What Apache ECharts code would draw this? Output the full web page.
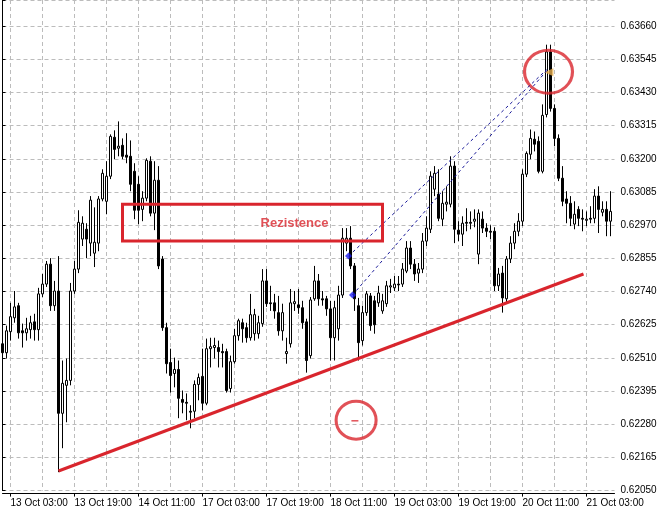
<!DOCTYPE html>
<html>
<head>
<meta charset="utf-8">
<script src="https://cdn.jsdelivr.net/npm/echarts@6/dist/echarts.min.js"></script>
<style>html,body{margin:0;padding:0;background:#fff}#c{width:660px;height:513px}</style>
</head>
<body>
<div id="c"></div>
<script>
// hourly bars, 13 Oct 01:00 onward (weekend skipped)
const opens = [0.62559,0.62528,0.62601,0.62649,0.62691,0.62604,0.62597,0.62608,0.62635,0.62608,
0.62732,0.62766,0.62835,0.62691,0.62742,0.62318,0.62415,0.62432,0.62742,0.62818,
0.62922,0.62956,0.62908,0.62873,0.62908,0.63061,0.63053,0.63140,0.63275,0.63237,
0.63247,0.63213,0.63209,0.63157,0.63112,0.63025,0.63064,0.63192,0.63012,0.63126,
0.62853,0.62615,0.62494,0.62456,0.62470,0.62366,0.62356,0.62325,0.62325,0.62418,
0.62446,0.62353,0.62542,0.62546,0.62546,0.62532,0.62532,0.62404,0.62497,0.62587,
0.62632,0.62615,0.62580,0.62594,0.62594,0.62629,0.62777,0.62701,0.62701,0.62667,
0.62604,0.62525,0.62559,0.62698,0.62694,0.62684,0.62635,0.62518,0.62715,0.62777,
0.62715,0.62715,0.62680,0.62580,0.62611,0.62728,0.62908,0.62925,0.62829,0.62691,
0.62570,0.62667,0.62725,0.62708,0.62701,0.62673,0.62698,0.62756,0.62753,0.62766,
0.62766,0.62811,0.62891,0.62835,0.62804,0.62818,0.62915,0.62956,0.63095,0.63078,
0.62991,0.63043,0.63043,0.63175,0.62953,0.62939,0.62980,0.62980,0.62984,0.62870,
0.62991,0.62960,0.62949,0.62949,0.62760,0.62804,0.62715,0.62853,0.62908,0.62949,
0.62984,0.63147,0.63216,0.63268,0.63261,0.63157,0.63354,0.63571,0.63375,0.63271,
0.63133,0.63061,0.63046,0.62974,0.63025,0.62994,0.62987,0.62994,0.62994,0.63071,
0.63015,0.63025,0.62984];
const closes = [0.62528,0.62604,0.62653,0.62687,0.62597,0.62597,0.62611,0.62632,0.62608,0.62732,
0.62766,0.62835,0.62691,0.62742,0.62318,0.62422,0.62432,0.62742,0.62818,0.62980,
0.62977,0.62922,0.63057,0.62911,0.63061,0.63150,0.63140,0.63278,0.63233,0.63244,
0.63209,0.63206,0.63112,0.63022,0.63022,0.63064,0.63195,0.63012,0.63126,0.62829,
0.62615,0.62490,0.62449,0.62470,0.62370,0.62356,0.62353,0.62322,0.62418,0.62442,
0.62353,0.62542,0.62549,0.62553,0.62532,0.62528,0.62397,0.62497,0.62587,0.62639,
0.62611,0.62580,0.62660,0.62660,0.62632,0.62777,0.62698,0.62698,0.62673,0.62604,
0.62667,0.62532,0.62701,0.62705,0.62684,0.62632,0.62501,0.62711,0.62777,0.62715,
0.62711,0.62680,0.62580,0.62684,0.62728,0.62925,0.62925,0.62829,0.62715,0.62563,
0.62667,0.62732,0.62622,0.62625,0.62735,0.62708,0.62760,0.62760,0.62766,0.62763,
0.62818,0.62891,0.62835,0.62801,0.62818,0.62915,0.62960,0.63140,0.63150,0.62994,
0.63046,0.63050,0.63175,0.62956,0.62939,0.62977,0.62977,0.62977,0.62991,0.63012,
0.62960,0.62949,0.62946,0.62760,0.62801,0.62718,0.62853,0.62908,0.62949,0.62984,
0.63147,0.63219,0.63271,0.63251,0.63157,0.63351,0.63571,0.63375,0.63271,0.63133,
0.63053,0.63046,0.62994,0.63008,0.62994,0.62991,0.62991,0.62991,0.63071,0.63025,
0.63025,0.62984,0.63018];
const lows = [0.62501,0.62508,0.62570,0.62632,0.62577,0.62546,0.62570,0.62577,0.62570,0.62570,
0.62721,0.62756,0.62673,0.62673,0.62114,0.62197,0.62287,0.62415,0.62732,0.62804,
0.62898,0.62856,0.62863,0.62825,0.62880,0.63053,0.63008,0.63130,0.63199,0.63209,
0.63199,0.63185,0.63088,0.62991,0.62974,0.62984,0.63053,0.63001,0.62953,0.62818,
0.62604,0.62456,0.62390,0.62408,0.62301,0.62318,0.62294,0.62266,0.62301,0.62363,
0.62328,0.62346,0.62477,0.62508,0.62477,0.62477,0.62390,0.62390,0.62490,0.62570,
0.62563,0.62563,0.62570,0.62570,0.62577,0.62618,0.62687,0.62673,0.62646,0.62587,
0.62570,0.62490,0.62546,0.62673,0.62663,0.62611,0.62459,0.62508,0.62708,0.62691,
0.62691,0.62656,0.62501,0.62501,0.62570,0.62718,0.62880,0.62818,0.62673,0.62501,
0.62553,0.62656,0.62604,0.62594,0.62687,0.62663,0.62687,0.62735,0.62742,0.62742,
0.62756,0.62804,0.62818,0.62777,0.62770,0.62804,0.62898,0.62943,0.63071,0.62984,
0.62967,0.63018,0.63032,0.62908,0.62915,0.62898,0.62949,0.62956,0.62963,0.62835,
0.62943,0.62929,0.62922,0.62742,0.62742,0.62667,0.62701,0.62839,0.62887,0.62932,
0.62967,0.63137,0.63199,0.63226,0.63150,0.63150,0.63344,0.63364,0.63244,0.63123,
0.63036,0.62977,0.62967,0.62956,0.62967,0.62949,0.62967,0.62977,0.62977,0.62943,
0.63001,0.62932,0.62932];
const highs = [0.62594,0.62622,0.62701,0.62742,0.62701,0.62629,0.62649,0.62656,0.62663,0.62753,
0.62801,0.62846,0.62856,0.62777,0.62863,0.62501,0.62508,0.62770,0.62846,0.63022,
0.63001,0.62977,0.63071,0.63032,0.63071,0.63164,0.63192,0.63285,0.63299,0.63330,
0.63271,0.63289,0.63264,0.63185,0.63140,0.63088,0.63202,0.63209,0.63192,0.63175,
0.62863,0.62632,0.62542,0.62511,0.62501,0.62397,0.62387,0.62346,0.62432,0.62456,
0.62542,0.62577,0.62580,0.62580,0.62570,0.62559,0.62542,0.62518,0.62611,0.62646,
0.62646,0.62632,0.62732,0.62680,0.62656,0.62818,0.62818,0.62760,0.62732,0.62725,
0.62698,0.62580,0.62749,0.62742,0.62749,0.62708,0.62646,0.62721,0.62829,0.62801,
0.62742,0.62725,0.62708,0.62708,0.62760,0.62960,0.62960,0.62967,0.62839,0.62718,
0.62691,0.62742,0.62735,0.62725,0.62760,0.62732,0.62777,0.62784,0.62794,0.62794,
0.62839,0.62915,0.62915,0.62853,0.62839,0.62943,0.63001,0.63157,0.63175,0.63164,
0.63088,0.63105,0.63209,0.63192,0.62984,0.63001,0.63029,0.63018,0.63025,0.63025,
0.63018,0.62977,0.62970,0.62963,0.62822,0.62829,0.62863,0.62932,0.62977,0.63012,
0.63164,0.63226,0.63302,0.63295,0.63278,0.63389,0.63596,0.63596,0.63389,0.63285,
0.63175,0.63088,0.63071,0.63053,0.63036,0.63025,0.63018,0.63036,0.63095,0.63105,
0.63053,0.63053,0.63088];

const yTickLabels = ['0.62050','0.62165','0.62280','0.62395','0.62510','0.62625','0.62740',
  '0.62855','0.62970','0.63085','0.63200','0.63315','0.63430','0.63545','0.63660'];
const yMin = 0.62050, yStep = 0.00115, yMax = 0.637509;

// annotation objects (x in bar-index units, y in price)
const trendLine = [[14, 0.62118], [145.25, 0.62801]];
const tradeLineA = [[86.5, 0.62863], [136, 0.63509]];
const tradeLineB = [[87.5, 0.62728], [136.25, 0.63509]];
const tradeEntries = [[86.5, 0.62863], [87.5, 0.62728]];
const tradeExit = [[136.6, 0.63500]];
const resistanceBox = [[30, 0.63043], [95, 0.63043], [95, 0.62915], [30, 0.62915], [30, 0.63043]];
const resistanceLabel = [[73, 0.62977]];
const circleTop = [[136.5, 0.63502]];
const circleBottom = [[88.4, 0.62294]];
const dashMark = [[88.1, 0.62292]];

// categories: hourly, skipping the weekend
const months = ['Jan','Feb','Mar','Apr','May','Jun','Jul','Aug','Sep','Oct','Nov','Dec'];
const categories = [];
let t = Date.UTC(2016, 9, 13, 1, 0);
while (categories.length < 154) {
  const d = new Date(t);
  const wd = d.getUTCDay();
  if (wd === 6 || wd === 0) { t += 3600000; continue; }
  const hh = String(d.getUTCHours()).padStart(2, '0');
  categories.push(d.getUTCDate() + ' ' + months[d.getUTCMonth()] + ' ' + hh + ':00');
  t += 3600000;
}
const labelIdx = (i) => (i - 2) % 16 === 0;

const candleData = opens.map((o, i) => [o, closes[i], lows[i], highs[i]]);
const RED = '#d9252d';
const FONT = "'Liberation Sans',Arial,sans-serif";

const chart = echarts.init(document.getElementById('c'), null, {renderer: 'canvas'});
chart.setOption({
  animation: false,
  backgroundColor: '#ffffff',
  grid: {left: 2.5, right: 45.5, top: -2, bottom: 22.4, containLabel: false},
  xAxis: [{
    type: 'category', data: categories, boundaryGap: false, offset: 3,
    axisLine: {lineStyle: {color: '#000', width: 1}},
    axisTick: {length: 3, lineStyle: {color: '#000'}, interval: labelIdx},
    axisLabel: {interval: labelIdx, align: 'left', margin: 5, color: '#000',
      fontSize: 10, fontFamily: FONT, hideOverlap: false,
      formatter: (v, i) => labelIdx(i) ? v : ''},
    splitLine: {show: true, interval: (i) => (i - 2) % 8 === 0,
      lineStyle: {color: '#bcbcbc', type: [4, 3], width: 1}}
  }, {
    type: 'value', min: 0, max: 153, show: false
  }],
  yAxis: {
    type: 'value', position: 'right', min: yMin, max: yMax, interval: yStep,
    axisLine: {show: true, lineStyle: {color: '#000', width: 1}},
    axisTick: {show: true, length: 3, lineStyle: {color: '#000'}},
    axisLabel: {margin: 6, color: '#000', fontSize: 10, fontFamily: FONT,
      formatter: (v) => { const s = v.toFixed(5); return yTickLabels.includes(s) ? s : ''; }},
    splitLine: {show: true, lineStyle: {color: '#bcbcbc', type: [4, 3], width: 1}}
  },
  series: [
    {
      type: 'candlestick', data: candleData, barWidth: 2, silent: true,
      itemStyle: {color: '#ffffff', color0: '#000000', borderColor: '#000000',
        borderColor0: '#000000', borderColorDoji: '#000000', borderWidth: 1}
    },
    {type: 'line', xAxisIndex: 1, data: trendLine, symbol: 'none', silent: true,
      lineStyle: {color: RED, width: 3}},
    {type: 'line', xAxisIndex: 1, data: tradeLineA, symbol: 'none', silent: true,
      lineStyle: {color: '#1a1a9a', width: 1, type: [3, 3]}},
    {type: 'line', xAxisIndex: 1, data: tradeLineB, symbol: 'none', silent: true,
      lineStyle: {color: '#1a1a9a', width: 1, type: [3, 3]}},
    {type: 'scatter', xAxisIndex: 1, data: tradeEntries, symbol: 'diamond', symbolSize: [7, 7],
      silent: true, itemStyle: {color: '#1c1cf0'}},
    {type: 'scatter', xAxisIndex: 1, data: tradeExit, symbol: 'triangle', symbolSize: [8, 9],
      symbolRotate: 90, silent: true, itemStyle: {color: '#e5ad4f'}},
    {type: 'line', xAxisIndex: 1, data: resistanceBox, symbol: 'none', silent: true,
      lineStyle: {color: RED, width: 3, cap: 'square', join: 'miter'}},
    {type: 'scatter', xAxisIndex: 1, data: resistanceLabel, symbolSize: 0, silent: true,
      label: {show: true, position: 'inside', formatter: 'Rezistence', color: RED,
        fontWeight: 'bold', fontSize: 13, fontFamily: "'Liberation Sans',Arial,sans-serif"}},
    {type: 'scatter', xAxisIndex: 1, data: circleTop, symbol: 'circle', symbolSize: [48, 43],
      silent: true, itemStyle: {color: 'rgba(0,0,0,0)', borderColor: RED, borderWidth: 3}},
    {type: 'scatter', xAxisIndex: 1, data: circleBottom, symbol: 'circle', symbolSize: [40, 38],
      silent: true, itemStyle: {color: 'rgba(0,0,0,0)', borderColor: RED, borderWidth: 3}},
    {type: 'scatter', xAxisIndex: 1, data: dashMark, symbol: 'rect', symbolSize: [7, 1.5],
      silent: true, itemStyle: {color: RED}}
  ]
});
</script>
</body>
</html>
